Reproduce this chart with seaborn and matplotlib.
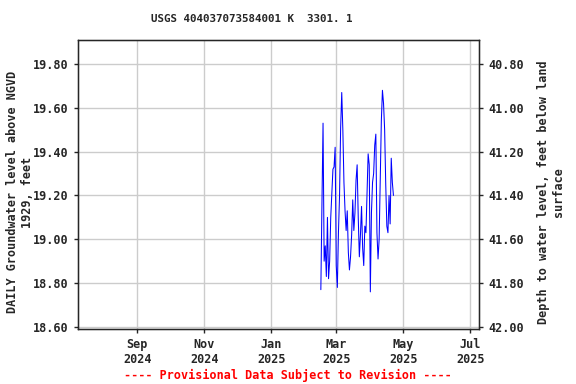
import pandas as pd
import numpy as np
import seaborn as sns
import matplotlib.pyplot as plt
import matplotlib.dates as mdates
from matplotlib.ticker import FixedLocator, FormatStrFormatter

# daily groundwater level, feet above NGVD 1929
start_date = '2025-02-15'
levels = [18.77, 19.16, 19.53, 18.90, 18.97, 18.83, 19.10, 18.82, 18.90, 19.10,
          19.21, 19.32, 19.33, 19.42, 18.88, 18.78, 19.03, 19.20, 19.51, 19.67,
          19.50, 19.26, 19.13, 19.04, 19.13, 18.94, 18.86, 18.92, 19.02, 19.18,
          19.04, 19.12, 19.27, 19.34, 19.10, 18.92, 19.02, 19.15, 18.96, 18.88,
          19.06, 19.03, 19.21, 19.39, 19.34, 18.76, 19.12, 19.26, 19.30, 19.43,
          19.48, 19.03, 18.91, 19.00, 19.27, 19.54, 19.68, 19.62, 19.50, 19.25,
          19.06, 19.03, 19.20, 19.07, 19.37, 19.26, 19.20]
left_ticks = [18.60, 18.80, 19.00, 19.20, 19.40, 19.60, 19.80]
right_ticks = [40.80, 41.00, 41.20, 41.40, 41.60, 41.80, 42.00]
datum_offset = 60.6  # depth = offset - level

df = pd.DataFrame({
    'date': pd.date_range(start_date, periods=len(levels), freq='D'),
    'level': levels,
})

sns.set_style('white')
plt.rcParams['font.family'] = ['DejaVu Sans Mono']
plt.rcParams['font.weight'] = 'bold'

fig = plt.figure(figsize=(5.76, 3.84), dpi=100)
ax = fig.add_axes([0.135, 0.143, 0.697, 0.753])

sns.lineplot(data=df, x='date', y='level', color='#0000ff', linewidth=0.75, ax=ax)

ax.set_xlim(pd.Timestamp('2024-07-09'), pd.Timestamp('2025-07-09'))
ax.set_ylim(18.59, 19.91)
ax.yaxis.set_major_locator(FixedLocator(left_ticks))
ax.yaxis.set_major_formatter(FormatStrFormatter('%.2f'))
ax.xaxis.set_major_locator(mdates.MonthLocator(bymonth=[1, 3, 5, 7, 9, 11]))
ax.xaxis.set_major_formatter(mdates.DateFormatter('%b\n%Y'))
ax.grid(True, color='#cccccc', linewidth=1)
ax.tick_params(labelsize=8.5, length=3, width=1, direction='out',
               bottom=True, left=True)
for s in ax.spines.values():
    s.set_color('black')
    s.set_linewidth(1)
ax.set_xlabel('')
ax.set_ylabel('DAILY Groundwater level above NGVD\n1929, feet', fontsize=8.5,
              fontweight='bold')
ax.yaxis.set_label_coords(-0.11, 0.474)

ax2 = ax.twinx()
lo, hi = ax.get_ylim()
ax2.set_ylim(datum_offset - lo, datum_offset - hi)
ax2.yaxis.set_major_locator(FixedLocator(right_ticks))
ax2.yaxis.set_major_formatter(FormatStrFormatter('%.2f'))
ax2.tick_params(labelsize=8.5, length=3, width=1, direction='out', right=True)
ax2.set_ylabel('Depth to water level, feet below land\nsurface', fontsize=8.5,
               fontweight='bold')
ax2.yaxis.set_label_coords(1.143, 0.474)
ax2.grid(False)

for lab in ax.get_xticklabels() + ax.get_yticklabels() + ax2.get_yticklabels():
    lab.set_fontweight('bold')

fig.text(0.4375, 0.95, 'USGS 404037073584001 K  3301. 1', ha='center', va='center',
         fontsize=7.8, fontweight='bold')
fig.text(0.5, 0.023, '---- Provisional Data Subject to Revision ----', ha='center',
         va='center', fontsize=8.5, fontweight='bold', color='red')

fig.savefig('out.png', dpi=100)
